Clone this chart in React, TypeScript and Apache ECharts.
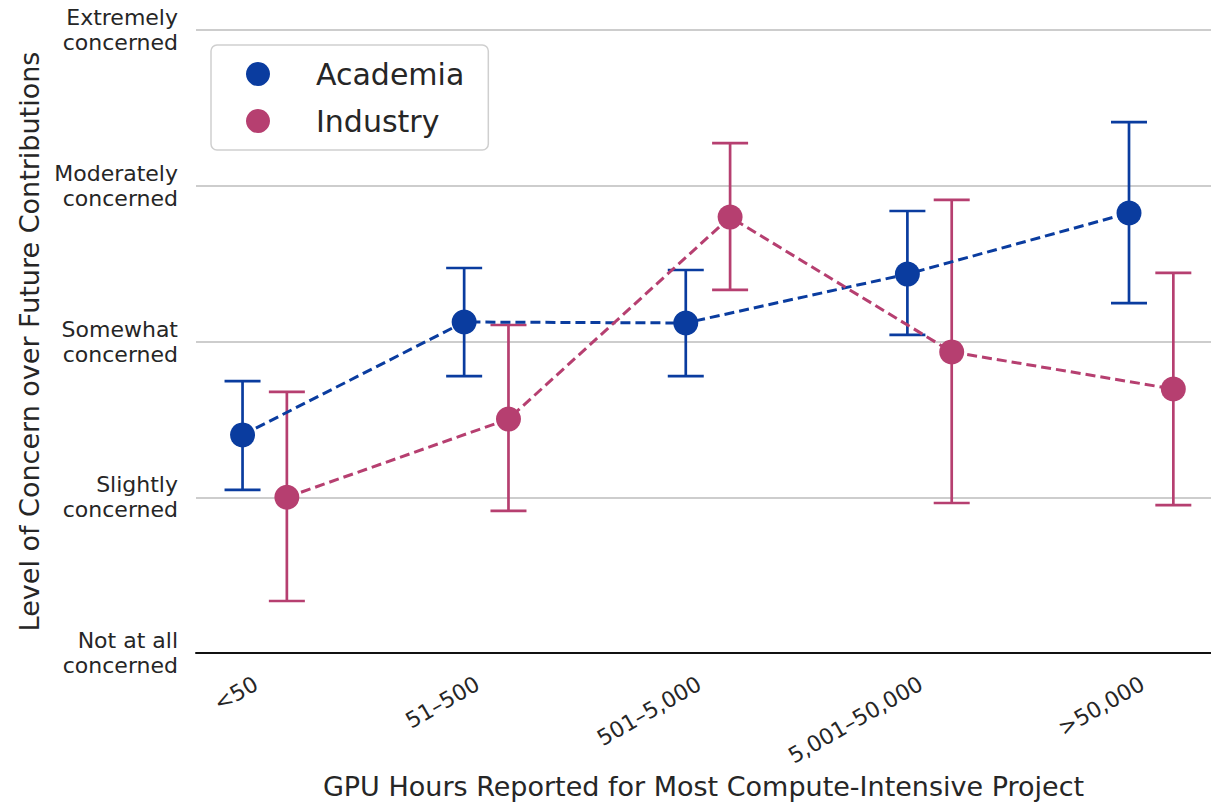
import React, { useEffect, useRef } from "react";
import * as echarts from "echarts";

const categories = ["<50", "51–500", "501–5,000", "5,001–50,000", ">50,000"];
const yLabels = [
  "Not at all\nconcerned",
  "Slightly\nconcerned",
  "Somewhat\nconcerned",
  "Moderately\nconcerned",
  "Extremely\nconcerned",
];

const academiaMean = [1.4, 2.125, 2.119, 2.433, 2.825];
const academiaLow = [1.047, 1.778, 1.778, 2.042, 2.247];
const academiaHigh = [1.746, 2.472, 2.459, 2.838, 3.409];

const industryMean = [1.0, 1.502, 2.799, 1.933, 1.695];
const industryLow = [0.334, 0.912, 2.331, 0.963, 0.95];
const industryHigh = [1.676, 2.106, 3.274, 2.909, 2.44];

const DODGE = 0.1;
const ACAD = "#0a3c9f";
const IND = "#b63f70";
const FONT = "DejaVu Sans";
const TXT = "#262626";

function errorSeries(name: string, color: string, offset: number, low: number[], high: number[]) {
  return {
    name,
    type: "custom",
    z: 2,
    data: low.map((l, i) => [i + offset, l, high[i]]),
    encode: { x: 0, y: [1, 2] },
    renderItem: (params: any, api: any) => {
      const x = api.value(0);
      const p1 = api.coord([x, api.value(1)]);
      const p2 = api.coord([x, api.value(2)]);
      const hw = 18;
      const style = { stroke: color, lineWidth: 2.7 };
      return {
        type: "group",
        children: [
          { type: "line", shape: { x1: p1[0], y1: p1[1], x2: p2[0], y2: p2[1] }, style },
          { type: "line", shape: { x1: p1[0] - hw, y1: p1[1], x2: p1[0] + hw, y2: p1[1] }, style },
          { type: "line", shape: { x1: p2[0] - hw, y1: p2[1], x2: p2[0] + hw, y2: p2[1] }, style },
        ],
      };
    },
  };
}

function lineSeries(name: string, color: string, offset: number, mean: number[]) {
  return {
    name,
    type: "line",
    z: 3,
    data: mean.map((m, i) => [i + offset, m]),
    symbol: "circle",
    symbolSize: 25,
    itemStyle: { color },
    lineStyle: { color, width: 3, type: [10, 5] },
  };
}

export default function App() {
  const ref = useRef<HTMLDivElement>(null);
  useEffect(() => {
    if (!ref.current) return;
    const chart = echarts.init(ref.current, null, { renderer: "svg" });
    chart.setOption({
      animation: false,
      backgroundColor: "#ffffff",
      textStyle: { fontFamily: FONT },
      grid: {
        left: 196,
        right: 0,
        top: 30,
        bottom: 150,
        containLabel: false,
        outerBoundsMode: "none",
      },
      legend: {
        data: ["Academia", "Industry"],
        orient: "vertical",
        left: 211,
        top: 45,
        icon: "circle",
        itemWidth: 24,
        itemHeight: 24,
        itemGap: 17,
        padding: [14, 24, 14, 35],
        backgroundColor: "#ffffff",
        borderColor: "#cfcfcf",
        borderWidth: 1.5,
        borderRadius: 6,
        textStyle: {
          fontSize: 30,
          color: TXT,
          fontFamily: FONT,
          lineHeight: 24,
          padding: [0, 0, 0, 41],
        },
      },
      xAxis: {
        type: "value",
        min: -0.31,
        max: 4.27,
        name: "GPU Hours Reported for Most Compute-Intensive Project",
        nameLocation: "middle",
        nameGap: 115,
        nameTextStyle: { fontSize: 27, color: TXT, fontFamily: FONT },
        splitLine: { show: false },
        axisTick: { show: false },
        axisLine: { show: true, lineStyle: { color: "#111111", width: 2 } },
        axisLabel: {
          customValues: [0, 1, 2, 3, 4],
          formatter: (v: number) => categories[Math.round(v)] ?? "",
          rotate: 30,
          fontSize: 22,
          color: TXT,
          fontFamily: FONT,
          margin: 24,
          padding: [0, 10, 0, 0],
        },
      },
      yAxis: {
        type: "value",
        min: 0,
        max: 4,
        interval: 1,
        name: "Level of Concern over Future Contributions",
        nameLocation: "middle",
        nameGap: 149,
        nameTextStyle: { fontSize: 27, color: TXT, fontFamily: FONT },
        axisLine: { show: false },
        axisTick: { show: false },
        splitLine: { show: true, lineStyle: { color: "#bdbdbd", width: 1.5 } },
        axisLabel: {
          formatter: (v: number) => yLabels[Math.round(v)] ?? "",
          fontSize: 22,
          lineHeight: 25,
          color: TXT,
          fontFamily: FONT,
          margin: 18,
          align: "right",
          padding: [10, 0, 0, 0],
        },
      },
      series: [
        errorSeries("Academia CI", ACAD, -DODGE, academiaLow, academiaHigh),
        errorSeries("Industry CI", IND, DODGE, industryLow, industryHigh),
        lineSeries("Academia", ACAD, -DODGE, academiaMean),
        lineSeries("Industry", IND, DODGE, industryMean),
      ],
    });
    return () => chart.dispose();
  }, []);
  return (
    <div
      ref={ref}
      style={{ position: "absolute", left: 0, top: 0, width: 1211, height: 803 }}
    />
  );
}
